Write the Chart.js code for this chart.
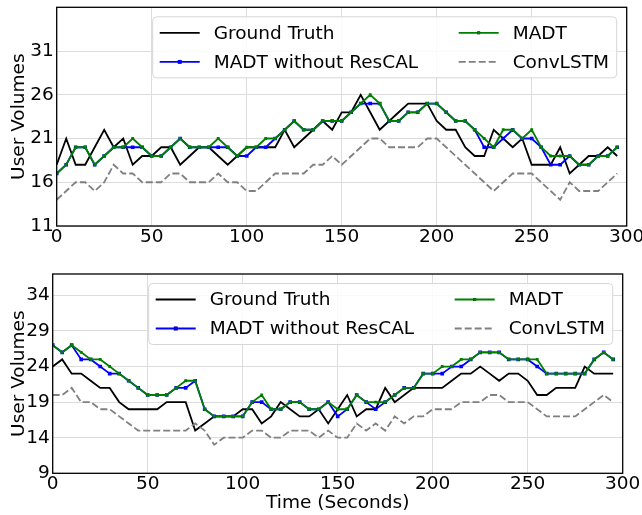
<!DOCTYPE html>
<html>
<head>
<meta charset="utf-8">
<script src="https://cdn.jsdelivr.net/npm/chart.js@4.4.1/dist/chart.umd.min.js"></script>
<style>
  body { margin: 0; background: #fff; }
  #contenedor { position: relative; width: 642px; height: 515px; }
  canvas { position: absolute; left: 0; }
</style>
</head>
<body>
<div id="contenedor">
  <canvas id="graficaArriba" width="642" height="250" style="top:0px"></canvas>
  <canvas id="graficaAbajo" width="642" height="265" style="top:250px"></canvas>
</div>
<script>
const tiempos = [0, 5, 10, 15, 20, 25, 30, 35, 40, 45, 50, 55, 60, 65, 70, 75, 80, 85, 90, 95,
    100, 105, 110, 115, 120, 125, 130, 135, 140, 145, 150, 155, 160, 165, 170, 175, 180, 185, 190, 195,
    200, 205, 210, 215, 220, 225, 230, 235, 240, 245, 250, 255, 260, 265, 270, 275, 280, 285, 290, 295];

const nombres = ['Ground Truth', 'MADT without ResCAL', 'MADT', 'ConvLSTM'];

// grafica de arriba
const realArriba = [18, 21, 18, 18, 20, 22, 20, 21, 18, 19, 19, 20, 20, 18, 19, 20, 20, 19, 18, 19,
    20, 20, 20, 20, 22, 20, 21, 22, 23, 22, 24, 24, 26, 24, 22, 23, 24, 25, 25, 25,
    23, 22, 22, 20, 19, 19, 22, 21, 20, 21, 18, 18, 18, 20, 17, 18, 19, 19, 20, 19];
const sinResArriba = [17, 18, 20, 20, 18, 19, 20, 20, 20, 20, 19, 19, 20, 21, 20, 20, 20, 20, 20, 19,
    19, 20, 20, 21, 22, 23, 22, 22, 23, 23, 23, 24, 25, 25, 25, 23, 23, 24, 24, 25,
    25, 24, 23, 23, 22, 20, 20, 21, 22, 21, 21, 20, 18, 18, 19, 18, 18, 19, 19, 20];
const madtArriba = [17, 18, 20, 20, 18, 19, 20, 20, 21, 20, 19, 19, 20, 21, 20, 20, 20, 21, 20, 19,
    20, 20, 21, 21, 22, 23, 22, 22, 23, 23, 23, 24, 25, 26, 25, 23, 23, 24, 24, 25,
    25, 24, 23, 23, 22, 21, 20, 22, 22, 21, 22, 20, 19, 19, 19, 18, 18, 19, 19, 20];
const convArriba = [14, 15, 16, 16, 15, 16, 18, 17, 17, 16, 16, 16, 17, 17, 16, 16, 16, 17, 16, 16,
    15, 15, 16, 17, 17, 17, 17, 18, 18, 19, 18, 19, 20, 21, 21, 20, 20, 20, 20, 21,
    21, 20, 19, 18, 17, 16, 15, 16, 17, 17, 17, 16, 15, 14, 16, 15, 15, 15, 16, 17];

// grafica de abajo
const realAbajo = [24, 25, 23, 23, 22, 21, 21, 19, 18, 18, 18, 18, 19, 19, 19, 15, 16, 17, 17, 17,
    18, 18, 16, 17, 19, 18, 17, 17, 18, 16, 18, 20, 17, 18, 18, 21, 19, 20, 21, 21,
    21, 21, 22, 23, 23, 24, 23, 22, 23, 23, 22, 20, 20, 21, 21, 21, 24, 23, 23, 23];
const sinResAbajo = [27, 26, 27, 25, 25, 24, 23, 23, 22, 21, 20, 20, 20, 21, 21, 22, 18, 17, 17, 17,
    17, 19, 19, 18, 18, 19, 19, 18, 18, 19, 17, 18, 20, 19, 18, 19, 20, 21, 21, 23,
    23, 23, 24, 24, 25, 26, 26, 26, 25, 25, 25, 24, 23, 23, 23, 23, 23, 25, 26, 25];
const madtAbajo = [27, 26, 27, 26, 25, 25, 24, 23, 22, 21, 20, 20, 20, 21, 22, 22, 18, 17, 17, 17,
    17, 19, 20, 18, 18, 19, 19, 18, 18, 19, 18, 18, 20, 19, 19, 19, 20, 21, 21, 23,
    23, 24, 24, 25, 25, 26, 26, 26, 25, 25, 25, 25, 23, 23, 23, 23, 23, 25, 26, 25];
const convAbajo = [20, 20, 21, 19, 19, 18, 18, 17, 16, 15, 15, 15, 15, 15, 15, 16, 15, 13, 14, 14,
    14, 15, 15, 14, 14, 15, 15, 15, 14, 15, 14, 14, 16, 15, 16, 15, 17, 16, 17, 17,
    18, 18, 18, 19, 19, 19, 20, 20, 19, 19, 19, 18, 17, 17, 17, 17, 18, 19, 20, 19];

const ticksX = [0, 50, 100, 150, 200, 250, 300];
const ticksYArriba = [11, 16, 21, 26, 31];
const ticksYAbajo = [9, 14, 19, 24, 29, 34];

Chart.defaults.font.family = "'DejaVu Sans', sans-serif";
Chart.defaults.font.size = 18.5;
Chart.defaults.color = '#000';

function puntos(valores) {
    return tiempos.map((t, i) => ({ x: t, y: valores[i] }));
}

// marco negro y leyenda dentro del area, como en matplotlib
const leyendaDentro = {
    id: 'leyendaDentro',
    afterDatasetsDraw(chart) {
        const { ctx, chartArea } = chart;
        ctx.save();
        ctx.strokeStyle = '#000';
        ctx.lineWidth = 1.3;
        ctx.strokeRect(chartArea.left, chartArea.top, chartArea.right - chartArea.left, chartArea.bottom - chartArea.top);

        const x0 = chartArea.left + 96;
        const y0 = chartArea.top + 9.5;
        const ancho = 464, alto = 61;
        ctx.beginPath();
        ctx.roundRect(x0, y0, ancho, alto, 4);
        ctx.fillStyle = 'rgba(255,255,255,0.85)';
        ctx.fill();
        ctx.strokeStyle = '#d6d6d6';
        ctx.lineWidth = 1;
        ctx.stroke();

        const posiciones = [
            { x: x0 + 7, y: y0 + 16 },
            { x: x0 + 7, y: y0 + 45 },
            { x: x0 + 306, y: y0 + 16 },
            { x: x0 + 306, y: y0 + 45 }
        ];
        chart.data.datasets.forEach((ds, i) => {
            const p = posiciones[i];
            ctx.beginPath();
            ctx.strokeStyle = ds.borderColor;
            ctx.lineWidth = ds.borderWidth;
            ctx.setLineDash(ds.borderDash || []);
            ctx.moveTo(p.x, p.y);
            ctx.lineTo(p.x + 40, p.y);
            ctx.stroke();
            ctx.setLineDash([]);
            if (ds.pointRadius > 0) {
                Chart.helpers.drawPoint(ctx, {
                    pointStyle: 'rect',
                    radius: ds.pointRadius,
                    rotation: 0,
                    borderWidth: 0
                }, p.x + 20, p.y);
                ctx.fillStyle = ds.pointBackgroundColor;
                ctx.fill();
            }
            ctx.fillStyle = '#000';
            ctx.font = "18.5px 'DejaVu Sans', sans-serif";
            ctx.textBaseline = 'middle';
            ctx.textAlign = 'left';
            ctx.fillText(ds.label, p.x + 54, p.y + 1);
        });
        ctx.restore();
    }
};

function crearGrafica(idCanvas, series, ticksY, minY, maxY, caja) {
    const ctx = document.getElementById(idCanvas).getContext('2d');
    return new Chart(ctx, {
        type: 'line',
        data: {
            datasets: [{
                label: nombres[0],
                data: puntos(series[0]),
                borderColor: '#000000',
                borderWidth: 1.8,
                pointRadius: 0,
                order: 3
            }, {
                label: nombres[1],
                data: puntos(series[1]),
                borderColor: '#0000ff',
                borderWidth: 1.8,
                pointStyle: 'rect',
                pointRadius: 2.6,
                pointBorderWidth: 0,
                pointBackgroundColor: '#0000ff',
                order: 2
            }, {
                label: nombres[2],
                data: puntos(series[2]),
                borderColor: '#008000',
                borderWidth: 1.8,
                pointStyle: 'rect',
                pointRadius: 2,
                pointBorderWidth: 0,
                pointBackgroundColor: '#008000',
                order: 1
            }, {
                label: nombres[3],
                data: puntos(series[3]),
                borderColor: '#808080',
                borderWidth: 1.8,
                borderDash: [7, 3],
                pointRadius: 0,
                order: 0
            }]
        },
        options: {
            responsive: false,
            animation: false,
            devicePixelRatio: 1,
            layout: { padding: { left: 0, right: caja.derecha, top: caja.arriba, bottom: 0 } },
            plugins: {
                legend: { display: false },
                tooltip: { enabled: false }
            },
            scales: {
                x: {
                    type: 'linear',
                    min: 0,
                    max: 300,
                    afterBuildTicks: (s) => { s.ticks = ticksX.map(v => ({ value: v })); },
                    afterFit: (s) => {
                        s.height = caja.altoX;
                        s.paddingLeft = 0;
                        s.paddingRight = 0;
                    },
                    ticks: { padding: 0, maxRotation: 0, autoSkip: false },
                    grid: { color: '#dcdcdc', lineWidth: 1, drawTicks: false },
                    border: { display: false },
                    title: {
                        display: !!caja.tituloX,
                        text: caja.tituloX || '',
                        padding: { top: 0, bottom: 1 }
                    }
                },
                y: {
                    min: minY,
                    max: maxY,
                    afterBuildTicks: (s) => { s.ticks = ticksY.map(v => ({ value: v })); },
                    afterFit: (s) => {
                        s.width = caja.anchoY;
                        s.paddingTop = 0;
                        s.paddingBottom = 0;
                    },
                    ticks: { padding: 3, autoSkip: false },
                    grid: { color: '#dcdcdc', lineWidth: 1, drawTicks: false },
                    border: { display: false },
                    title: {
                        display: true,
                        text: 'User Volumes',
                        padding: { top: 8.4, bottom: 0 }
                    }
                }
            }
        },
        plugins: [leyendaDentro]
    });
}

crearGrafica('graficaArriba', [realArriba, sinResArriba, madtArriba, convArriba], ticksYArriba, 11, 36,
    { anchoY: 56.7, altoX: 24, derecha: 15.3, arriba: 7.3 });

crearGrafica('graficaAbajo', [realAbajo, sinResAbajo, madtAbajo, convAbajo], ticksYAbajo, 9, 37,
    { anchoY: 52.7, altoX: 41.7, derecha: 19.3, arriba: 24, tituloX: 'Time (Seconds)' });
</script>
</body>
</html>
